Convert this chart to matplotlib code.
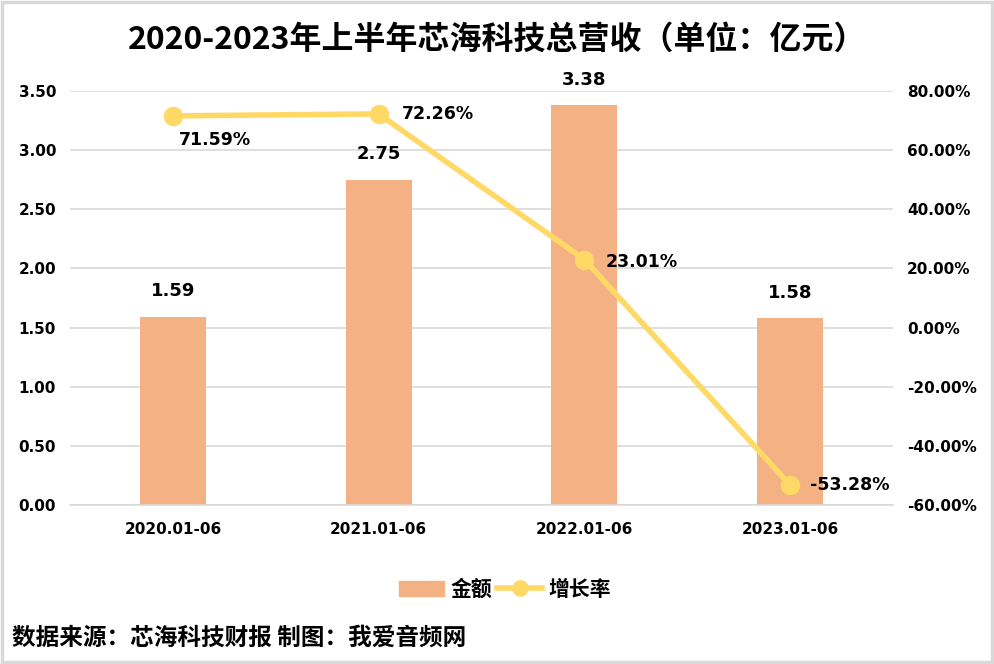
import matplotlib
matplotlib.use("Agg")
import matplotlib.pyplot as plt
from matplotlib.patches import Rectangle
from matplotlib.lines import Line2D
from matplotlib.ticker import FuncFormatter

plt.rcParams['font.family'] = ['Noto Sans CJK SC', 'DejaVu Sans']

categories = ["2020.01-06", "2021.01-06", "2022.01-06", "2023.01-06"]
revenue = [1.59, 2.75, 3.38, 1.58]          # 亿元
growth = [71.59, 72.26, 23.01, -53.28]      # %

BAR_C = "#F4B183"
LINE_C = "#FFD966"

fig = plt.figure(figsize=(9.94, 6.64), dpi=100)
ax = fig.add_axes([70 / 994, 1 - 505 / 664, 823 / 994, 414 / 664])
ax2 = ax.twinx()

x = range(len(categories))
ax.bar(x, revenue, width=0.32, color=BAR_C, zorder=2)
ax.set_xlim(-0.5, 3.5)
ax.set_ylim(0, 3.5)
ax.set_yticks([0, 0.5, 1, 1.5, 2, 2.5, 3, 3.5])
ax.yaxis.set_major_formatter(FuncFormatter(lambda v, p: f"{v:.2f}"))
ax.grid(axis="y", color="#D9D9D9", lw=1.2, zorder=0)
ax.set_xticks(list(x))
ax.set_xticklabels(categories, fontsize=11, fontweight="bold", family="DejaVu Sans")
for lab in ax.get_yticklabels():
    lab.set_fontsize(11); lab.set_fontweight("bold"); lab.set_family("DejaVu Sans")
ax.tick_params(length=0, pad=10)
ax.tick_params(axis="x", pad=12)
for sp in ax.spines.values():
    sp.set_visible(False)
ax.spines["bottom"].set_visible(True)
ax.spines["bottom"].set_color("#D9D9D9")
ax.spines["bottom"].set_linewidth(1.2)

for i, v in enumerate(revenue):
    ax.text(i, v + 0.14, f"{v:.2f}", ha="center", va="bottom",
            fontsize=13, fontweight="bold", family="DejaVu Sans")

ax2.plot(list(x), growth, color=LINE_C, lw=4, marker="o", ms=13, zorder=3)
ax2.set_ylim(-60, 80)
ax2.set_yticks(range(-60, 81, 20))
ax2.yaxis.set_major_formatter(FuncFormatter(lambda v, p: f"{v:.2f}%"))
for lab in ax2.get_yticklabels():
    lab.set_fontsize(11); lab.set_fontweight("bold"); lab.set_family("DejaVu Sans")
ax2.tick_params(length=0, pad=10)
for sp in ax2.spines.values():
    sp.set_visible(False)

offsets = [(42, -24), (59, 0), (57, -2), (60, 0)]
for i, (g, off) in enumerate(zip(growth, offsets)):
    ax2.annotate(f"{g:.2f}%", (i, g), xytext=off, textcoords="offset pixels",
                 ha="center", va="center", fontsize=12.5, fontweight="bold",
                 family="DejaVu Sans")

fig.text(0.5, 1 - 40 / 664, "2020-2023年上半年芯海科技总营收（单位：亿元）",
         ha="center", va="center", fontsize=23, fontweight="bold")

handles = [Rectangle((0, 0), 1, 1, color=BAR_C),
           Line2D([0], [0], color=LINE_C, lw=4, marker="o", ms=11)]
fig.legend(handles, ["金额", "增长率"], loc="center", bbox_to_anchor=(505 / 994, 1 - 589 / 664),
           ncol=2, frameon=False, prop={"size": 15, "weight": "bold"},
           handlelength=2.2, columnspacing=0.2, handletextpad=0.3)

fig.text(12 / 994, 1 - 638 / 664, "数据来源：芯海科技财报 制图：我爱音频网",
         ha="left", va="center", fontsize=17, fontweight="bold")

fig.add_artist(Rectangle((0.002, 0.003), 0.996, 0.994, transform=fig.transFigure,
                         fill=False, edgecolor="#D9D9D9", lw=2.5))

fig.savefig("out.png", dpi=100, facecolor="white")
